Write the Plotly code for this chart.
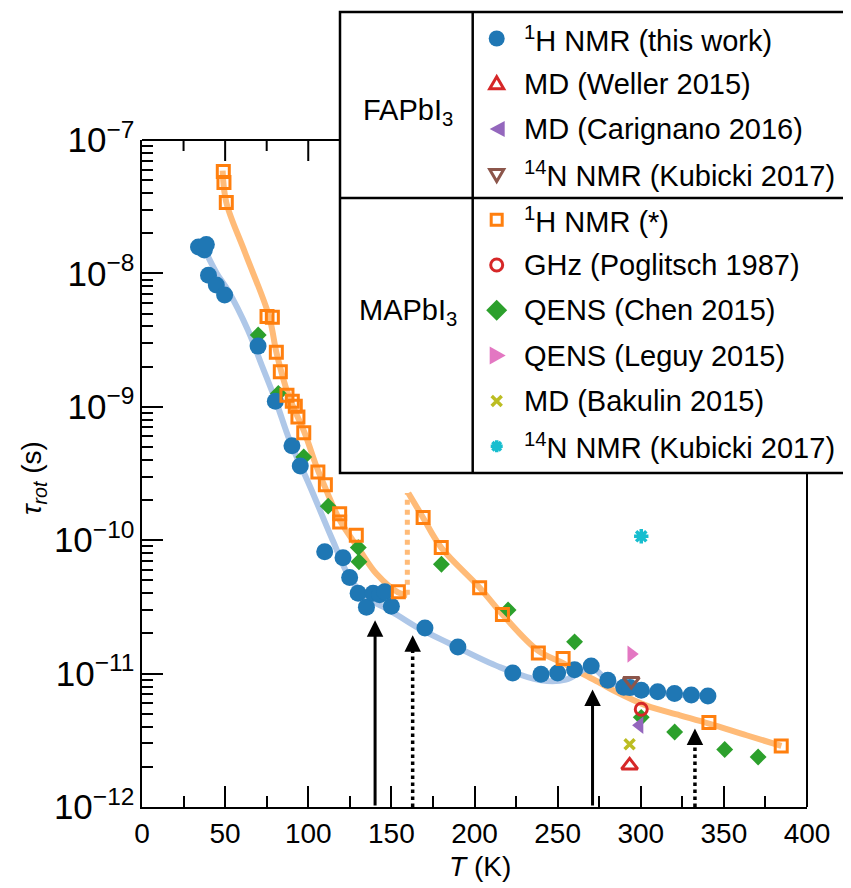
import math
import plotly.graph_objects as go

# ---------------- data ----------------
# FAPbI3, 1H NMR (this work)
fa_T = [34, 37.5, 38.7, 40, 44.7, 49.7, 69.8, 80.2, 90.2, 95.2, 109.9, 120.9, 124.9,
        130, 135, 139, 143, 146, 150, 170.2, 190, 223, 240, 250, 260.2, 270.2,
        280.2, 289.8, 293.5, 300.3, 310.2, 320.3, 330.4, 340.4]
fa_tau = [1.58e-8, 1.5e-8, 1.65e-8, 9.7e-9, 8.2e-9, 6.9e-9, 2.85e-9, 1.1e-9, 5.1e-10,
          3.6e-10, 8.2e-11, 7.4e-11, 5.25e-11, 4.0e-11, 3.15e-11, 4.0e-11, 3.9e-11,
          4.1e-11, 3.2e-11, 2.2e-11, 1.58e-11, 1.01e-11, 9.9e-12, 1.01e-11, 1.07e-11,
          1.14e-11, 8.9e-12, 7.9e-12, 7.85e-12, 7.5e-12, 7.3e-12, 7.1e-12, 6.9e-12, 6.8e-12]

# FAPbI3 guide curve
fa_fit_T = [38, 45, 51.6, 63.7, 72.1, 80.9, 88.8, 100.8, 114.7, 124.9, 135, 149, 165,
            185, 215, 240, 255, 270, 280, 290.3, 300, 320, 340]
fa_fit_tau = [1.48e-8, 1.0e-8, 7.5e-9, 3.76e-9, 2.04e-9, 1.07e-9, 5.6e-10, 2.57e-10,
              1.0e-10, 5.25e-11, 3.72e-11, 2.98e-11, 2.24e-11, 1.68e-11, 1.12e-11,
              8.9e-12, 9.0e-12, 1.11e-11, 8.9e-12, 7.9e-12, 7.5e-12, 7.0e-12, 6.76e-12]

# MAPbI3, 1H NMR (*)
ma_T = [48.9, 49.3, 50.7, 75.2, 78.4, 80.8, 83.2, 87.2, 90.4, 92.2, 93.8, 97.3, 105.8,
        110.3, 118.9, 118.9, 128.9, 154.2, 169.1, 180, 203.1, 216.8, 238.4, 253.3,
        341, 384.5]
ma_tau = [5.8e-8, 4.8e-8, 3.4e-8, 4.75e-9, 4.7e-9, 2.56e-9, 1.83e-9, 1.22e-9, 1.1e-9,
          1.01e-9, 8.4e-10, 6.4e-10, 3.25e-10, 2.6e-10, 1.58e-10, 1.37e-10, 1.09e-10,
          4.1e-11, 1.48e-10, 8.8e-11, 4.4e-11, 2.77e-11, 1.43e-11, 1.3e-11, 4.3e-12,
          2.87e-12]

# MAPbI3 guide curve, low-T branch and high-T branch
ma_fit1_T = [48.5, 50.7, 62, 76.4, 81, 88, 98, 105, 110, 119, 131, 141, 154, 159.6]
ma_fit1_tau = [5.9e-8, 3.41e-8, 1.43e-8, 4.79e-9, 2.51e-9, 1.23e-9, 6.3e-10, 3.55e-10,
               2.51e-10, 1.41e-10, 8.4e-11, 5.6e-11, 4.07e-11, 3.89e-11]
ma_fit2_T = [160.2, 169, 180, 203, 216.8, 238.4, 253.3, 263.3, 275.6, 283.4, 303.5,
             323.6, 341, 363.6, 384.6]
ma_fit2_tau = [2.26e-10, 1.48e-10, 8.8e-11, 4.42e-11, 2.77e-11, 1.48e-11, 1.2e-11,
               1.02e-11, 8.5e-12, 7.5e-12, 5.75e-12, 4.87e-12, 4.22e-12, 3.45e-12,
               2.87e-12]
ma_step_T = [159.6, 159.6]
ma_step_tau = [3.9e-11, 2.26e-10]

# MAPbI3, QENS (Chen 2015)
chen_T = [69.9, 82, 97.3, 112, 130.1, 130.5, 180.1, 220.2, 260.2, 300.3, 320.4, 350.5, 370.6]
chen_tau = [3.45e-9, 1.26e-9, 4.2e-10, 1.8e-10, 8.8e-11, 6.9e-11, 6.6e-11, 3.0e-11,
            1.73e-11, 4.7e-12, 3.65e-12, 2.7e-12, 2.37e-12]

# single literature points
weller_T, weller_tau = [293.3], [2.05e-12]
carignano_T, carignano_tau = [299.3], [4.1e-12]
kubFA_T, kubFA_tau = [294.3], [8.8e-12]
pog_T, pog_tau = [300.3], [5.4e-12]
leguy_T, leguy_tau = [294.3], [1.4e-11]
bakulin_T, bakulin_tau = [293.3], [2.95e-12]
kubMA_T, kubMA_tau = [300.3], [1.07e-10]

# phase-transition arrows: temperature and arrow-tip value
solid_arrow_T = [140.2, 271]
solid_arrow_tip = [2.51e-11, 7.59e-12]
dotted_arrow_T = [162.8, 332.6]
dotted_arrow_tip = [1.94e-11, 3.87e-12]

x_major = [0, 50, 100, 150, 200, 250, 300, 350, 400]
x_minor = [25, 75, 125, 175, 225, 275, 325, 375]
y_major_exp = [-12, -11, -10, -9, -8, -7]

# ---------------- layout geometry (reference pixels) ----------------
OFF = 8                      # page body margin of the html page
X0, X1, Y0, Y1 = 142, 807, 140, 807   # plot area in screenshot pixels
W, H = 851 - OFF, 888 - OFF
ML, MR, MT, MB = X0 - OFF, 851 - X1, Y0 - OFF, 888 - Y1
FONT = "Liberation Sans, Arial, sans-serif"
FS = 28
FS_LEG = 29


def fx(px):
    return (px - X0) / (X1 - X0)


def fy(py):
    return (Y1 - py) / (Y1 - Y0)


C = dict(blue="#1f77b4", orange="#ff7f0e", green="#2ca02c", red="#d62728",
         purple="#9467bd", brown="#8c564b", pink="#e377c2", olive="#bcbd22",
         cyan="#17becf")

styles = {
    "fa": dict(symbol="circle", size=17, color=C["blue"]),
    "weller": dict(symbol="triangle-up-open", size=14, color=C["red"],
                   line=dict(width=3, color=C["red"])),
    "carignano": dict(symbol="triangle-left", size=15, color=C["purple"]),
    "kubFA": dict(symbol="triangle-down-open", size=14, color=C["brown"],
                  line=dict(width=3, color=C["brown"])),
    "ma": dict(symbol="square-open", size=12, color=C["orange"],
               line=dict(width=3, color=C["orange"])),
    "pog": dict(symbol="circle-open", size=12, color=C["red"],
                line=dict(width=3, color=C["red"])),
    "chen": dict(symbol="diamond", size=13, color=C["green"]),
    "leguy": dict(symbol="triangle-right", size=15, color=C["pink"]),
    "bakulin": dict(symbol="x-thin-open", size=10, color=C["olive"],
                    line=dict(width=3.5, color=C["olive"])),
    "kubMA": dict(symbol="asterisk-open", size=12, color=C["cyan"],
                  line=dict(width=3.5, color=C["cyan"])),
}

fig = go.Figure()

# guide curves
fig.add_trace(go.Scatter(x=ma_fit1_T, y=ma_fit1_tau, mode="lines",
                         line=dict(color="#ffbb78", width=6, shape="spline"),
                         showlegend=False, hoverinfo="skip"))
fig.add_trace(go.Scatter(x=ma_fit2_T, y=ma_fit2_tau, mode="lines",
                         line=dict(color="#ffbb78", width=6, shape="spline"),
                         showlegend=False, hoverinfo="skip"))
fig.add_trace(go.Scatter(x=ma_step_T, y=ma_step_tau, mode="lines",
                         line=dict(color="#ffbb78", width=5, dash="dot"),
                         showlegend=False, hoverinfo="skip"))
fig.add_trace(go.Scatter(x=fa_fit_T, y=fa_fit_tau, mode="lines",
                         line=dict(color="#aec7e8", width=6, shape="spline"),
                         showlegend=False, hoverinfo="skip"))

# dotted arrow shafts
for t, tip in zip(dotted_arrow_T, dotted_arrow_tip):
    fig.add_trace(go.Scatter(x=[t, t], y=[1e-12, tip * 0.82], mode="lines",
                             line=dict(color="black", width=3.5, dash="dot"),
                             showlegend=False, hoverinfo="skip"))

# data markers
series = [
    ("chen", chen_T, chen_tau),
    ("fa", fa_T, fa_tau),
    ("ma", ma_T, ma_tau),
    ("weller", weller_T, weller_tau),
    ("carignano", carignano_T, carignano_tau),
    ("kubFA", kubFA_T, kubFA_tau),
    ("pog", pog_T, pog_tau),
    ("leguy", leguy_T, leguy_tau),
    ("bakulin", bakulin_T, bakulin_tau),
    ("kubMA", kubMA_T, kubMA_tau),
]
for key, xs, ys in series:
    fig.add_trace(go.Scatter(x=xs, y=ys, mode="markers", marker=styles[key],
                             showlegend=False))

# ---------------- arrows ----------------
for t, tip in zip(solid_arrow_T, solid_arrow_tip):
    fig.add_annotation(x=t, y=math.log10(tip), xref="x", yref="y",
                       ax=t, ay=-12, axref="x", ayref="y", showarrow=True,
                       arrowhead=2, arrowsize=1.1, arrowwidth=3, arrowcolor="black",
                       standoff=0, text="")
for t, tip in zip(dotted_arrow_T, dotted_arrow_tip):
    fig.add_annotation(x=t, y=math.log10(tip), xref="x", yref="y",
                       ax=0, ay=16, showarrow=True,
                       arrowhead=2, arrowsize=1.1, arrowwidth=3, arrowcolor="black",
                       standoff=0, text="")

# ---------------- frame pieces and mirrored ticks not hidden by the legend table ----
box_l, box_r, box_t, box_b, box_mid, box_div = 340, 850, 12, 473, 198, 472.7
ax_line = dict(color="black", width=2)
fig.add_shape(type="line", xref="paper", yref="paper", x0=0, x1=fx(box_l),
              y0=1, y1=1, line=ax_line)
fig.add_shape(type="line", xref="paper", yref="paper", x0=1, x1=1,
              y0=0, y1=fy(box_b), line=ax_line)

x_lim_top = 400 * fx(box_l)
for vals, ln in ((x_major, 21), (x_minor, 11)):
    for t in vals:
        if 0 < t < x_lim_top:
            fig.add_shape(type="line", xref="x", x0=t, x1=t, yref="paper",
                          ysizemode="pixel", yanchor=1, y0=0, y1=-ln, line=ax_line)

y_lim_right = -12 + 5 * fy(box_b)
for e in y_major_exp[:-1]:
    for m in range(1, 10):
        lv = e + math.log10(m)
        if lv < y_lim_right:
            ln = 21 if m == 1 else 11
            fig.add_shape(type="line", yref="y", y0=lv, y1=lv, xref="paper",
                          xsizemode="pixel", xanchor=1, x0=0, x1=-ln, line=ax_line)

# ---------------- legend table ----------------
line_k = dict(color="black", width=2.5)
fig.add_shape(type="rect", xref="paper", yref="paper", x0=fx(box_l), x1=fx(box_r),
              y0=fy(box_b), y1=fy(box_t), line=line_k)
fig.add_shape(type="line", xref="paper", yref="paper", x0=fx(box_l), x1=fx(box_r),
              y0=fy(box_mid), y1=fy(box_mid), line=line_k)
fig.add_shape(type="line", xref="paper", yref="paper", x0=fx(box_div), x1=fx(box_div),
              y0=fy(box_b), y1=fy(box_t), line=line_k)


def legend_symbol(key, cx, cy):
    base = dict(xref="paper", yref="paper", xsizemode="pixel", ysizemode="pixel",
                xanchor=fx(cx), yanchor=fy(cy))
    out = []

    def filled(path, col):
        out.append(dict(type="path", path=path, fillcolor=col,
                        line=dict(width=0, color=col), **base))

    def stroked(path, col, w=3):
        out.append(dict(type="path", path=path, fillcolor="rgba(0,0,0,0)",
                        line=dict(width=w, color=col), **base))

    if key == "fa":
        out.append(dict(type="circle", x0=-8, x1=8, y0=-8, y1=8, fillcolor=C["blue"],
                        line=dict(width=0, color=C["blue"]), **base))
    elif key == "weller":
        stroked("M -7,-5 L 7,-5 L 0,7 Z", C["red"])
    elif key == "carignano":
        filled("M 8,-8 L 8,8 L -7,0 Z", C["purple"])
    elif key == "kubFA":
        stroked("M -7,5 L 7,5 L 0,-7 Z", C["brown"])
    elif key == "ma":
        stroked("M -5.5,-5.5 L 5.5,-5.5 L 5.5,5.5 L -5.5,5.5 Z", C["orange"])
    elif key == "pog":
        out.append(dict(type="circle", x0=-6, x1=6, y0=-6, y1=6,
                        fillcolor="rgba(0,0,0,0)",
                        line=dict(width=3, color=C["red"]), **base))
    elif key == "chen":
        filled("M 0,10.5 L 10.5,0 L 0,-10.5 L -10.5,0 Z", C["green"])
    elif key == "leguy":
        filled("M -7,-9 L -7,9 L 9,0 Z", C["pink"])
    elif key == "bakulin":
        stroked("M -5,-5 L 5,5 M -5,5 L 5,-5", C["olive"], 3.5)
    elif key == "kubMA":
        stroked("M -6,0 L 6,0 M 0,-6 L 0,6 M -4.3,-4.3 L 4.3,4.3 M -4.3,4.3 L 4.3,-4.3",
                C["cyan"], 3.5)
    return out


legend_rows = [
    ("fa", "<sup>1</sup>H NMR (this work)"),
    ("weller", "MD (Weller 2015)"),
    ("carignano", "MD (Carignano 2016)"),
    ("kubFA", "<sup>14</sup>N NMR (Kubicki 2017)"),
    ("ma", "<sup>1</sup>H NMR (*)"),
    ("pog", "GHz (Poglitsch 1987)"),
    ("chen", "QENS (Chen 2015)"),
    ("leguy", "QENS (Leguy 2015)"),
    ("bakulin", "MD (Bakulin 2015)"),
    ("kubMA", "<sup>14</sup>N NMR (Kubicki 2017)"),
]
row0, row_step = 38.5, 45.3
sym_x, txt_x = 496.7, 522

for i, (key, label) in enumerate(legend_rows):
    yy = row0 + row_step * i
    for shp in legend_symbol(key, sym_x, yy):
        fig.add_shape(**shp)
    fig.add_annotation(x=fx(txt_x), y=fy(yy), xref="paper", yref="paper",
                       text=label, showarrow=False, xanchor="left", yanchor="middle",
                       font=dict(family=FONT, size=FS_LEG, color="black"))

fig.add_annotation(x=fx(408), y=fy(112), xref="paper", yref="paper",
                   text="FAPbI<sub>3</sub>", showarrow=False,
                   xanchor="center", yanchor="middle",
                   font=dict(family=FONT, size=FS_LEG, color="black"))
fig.add_annotation(x=fx(408), y=fy(312), xref="paper", yref="paper",
                   text="MAPbI<sub>3</sub>", showarrow=False,
                   xanchor="center", yanchor="middle",
                   font=dict(family=FONT, size=FS_LEG, color="black"))

# ---------------- axis titles ----------------
fig.add_annotation(x=fx(480), y=fy(866), xref="paper", yref="paper",
                   text="<i>T</i> (K)", showarrow=False, xanchor="center",
                   yanchor="middle", font=dict(family=FONT, size=FS, color="black"))
fig.add_annotation(x=fx(33), y=fy(478), xref="paper", yref="paper",
                   text="<i>τ<sub>rot</sub></i> (s)", showarrow=False, textangle=-90,
                   xanchor="center", yanchor="middle",
                   font=dict(family=FONT, size=FS, color="black"))

axis_common = dict(showgrid=False, zeroline=False, showline=True, linecolor="black",
                   linewidth=2, ticks="inside", ticklen=21, tickwidth=2,
                   tickcolor="black", mirror=False,
                   tickfont=dict(family=FONT, size=FS, color="black"))

fig.update_layout(
    width=W, height=H,
    margin=dict(l=ML, r=MR, t=MT, b=MB, pad=0),
    paper_bgcolor="white", plot_bgcolor="white",
    font=dict(family=FONT, size=FS, color="black"),
    showlegend=False,
    xaxis=dict(range=[0, 400], tickmode="array", tickvals=x_major,
               minor=dict(ticks="inside", ticklen=11, tickwidth=2,
                          tickmode="array", tickvals=x_minor, tickcolor="black"),
               **axis_common),
    yaxis=dict(type="log", range=[-12, -7], dtick=1, exponentformat="power",
               minor=dict(ticks="inside", ticklen=11, tickwidth=2, dtick="D1",
                          tickcolor="black"),
               **axis_common),
)

fig.write_html("out.html")
